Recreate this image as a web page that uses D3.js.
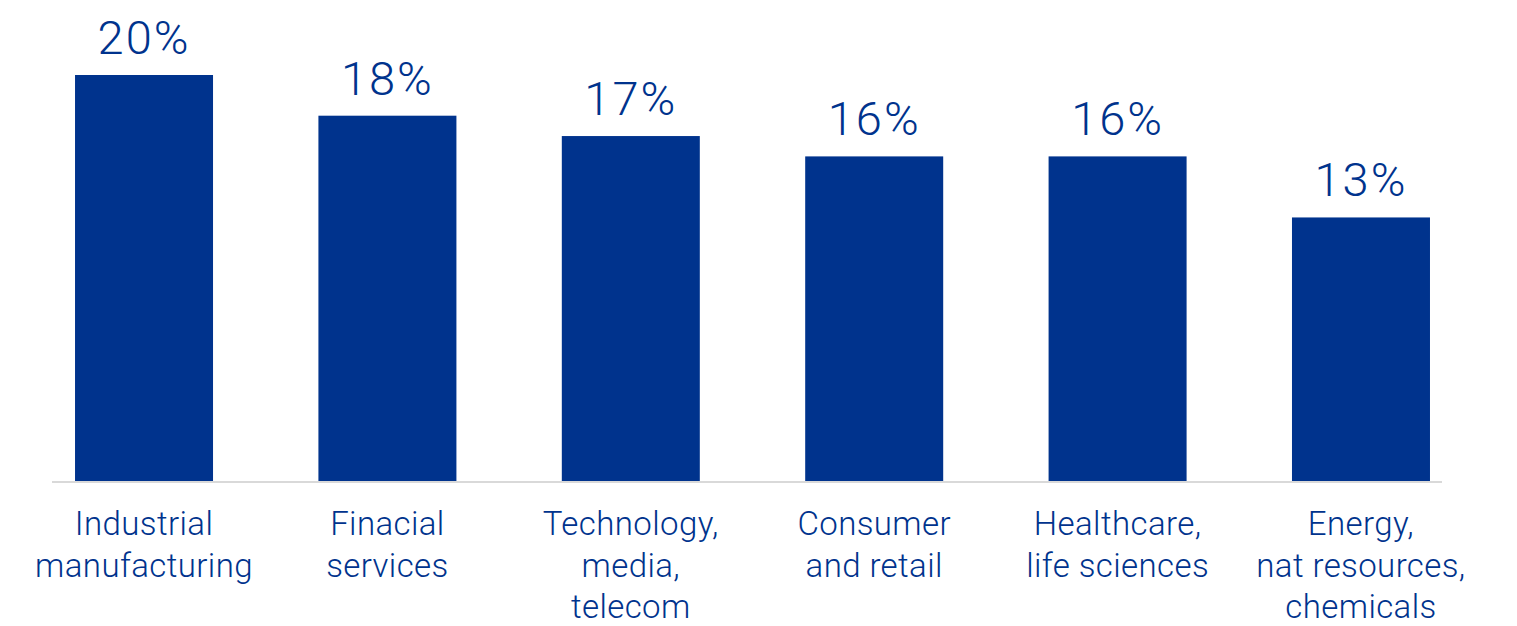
<!DOCTYPE html>
<html>
<head>
<meta charset="utf-8">
<script src="https://cdn.jsdelivr.net/npm/d3@7"></script>
<style>
  html, body { margin: 0; padding: 0; background: #fff; }
  svg { display: block; }
  text { font-family: Roboto, "Liberation Sans", sans-serif; font-weight: 300; fill: #00338D; }
</style>
</head>
<body>
<svg id="chart" width="1517" height="626"></svg>
<script>
// Share by sector
const categories = [
  ["Industrial", "manufacturing"],
  ["Finacial", "services"],
  ["Technology,", "media,", "telecom"],
  ["Consumer", "and retail"],
  ["Healthcare,", "life sciences"],
  ["Energy,", "nat resources,", "chemicals"]
];
const values = [20, 18, 17, 16, 16, 13];
const valueLabels = ["20%", "18%", "17%", "16%", "16%", "13%"];

const svg = d3.select("#chart");
const plotLeft = 52;
const plotRight = 1442;
const baseline = 482;

const x = d3.scaleBand()
  .domain(categories.map((c, i) => i))
  .range([plotLeft, plotRight])
  .paddingInner(0.433)
  .paddingOuter(0.072)
  .align(0.657);

const y = d3.scaleLinear()
  .domain([0, 20])
  .range([baseline, 75]);

// bars
svg.append("g")
  .selectAll("rect")
  .data(values)
  .join("rect")
  .attr("x", (d, i) => x(i))
  .attr("y", d => y(d))
  .attr("width", x.bandwidth())
  .attr("height", d => baseline - y(d))
  .attr("fill", "#00338D");

// baseline axis
const axisG = svg.append("g")
  .attr("transform", `translate(0,${baseline})`)
  .call(d3.axisBottom(x).tickSize(0).tickFormat(() => ""));
axisG.select(".domain")
  .attr("stroke", "#d9d9d9")
  .attr("stroke-width", 2)
  .attr("d", `M${plotLeft},0H${plotRight}`);

// value labels
svg.append("g")
  .selectAll("text")
  .data(values)
  .join("text")
  .attr("x", (d, i) => x(i) + x.bandwidth() / 2)
  .attr("y", d => y(d) - 21)
  .attr("text-anchor", "middle")
  .attr("font-size", 47)
  .attr("letter-spacing", 2)
  .text((d, i) => valueLabels[i]);

// category labels
const catG = svg.append("g");
categories.forEach((lines, i) => {
  const cx = x(i) + x.bandwidth() / 2;
  const t = catG.append("text")
    .attr("x", cx)
    .attr("y", 535)
    .attr("text-anchor", "middle")
    .attr("font-size", 33)
    .attr("letter-spacing", 0.4);
  lines.forEach((ln, j) => {
    t.append("tspan")
      .attr("x", cx)
      .attr("dy", j === 0 ? 0 : 41.5)
      .text(ln);
  });
});
</script>
</body>
</html>
